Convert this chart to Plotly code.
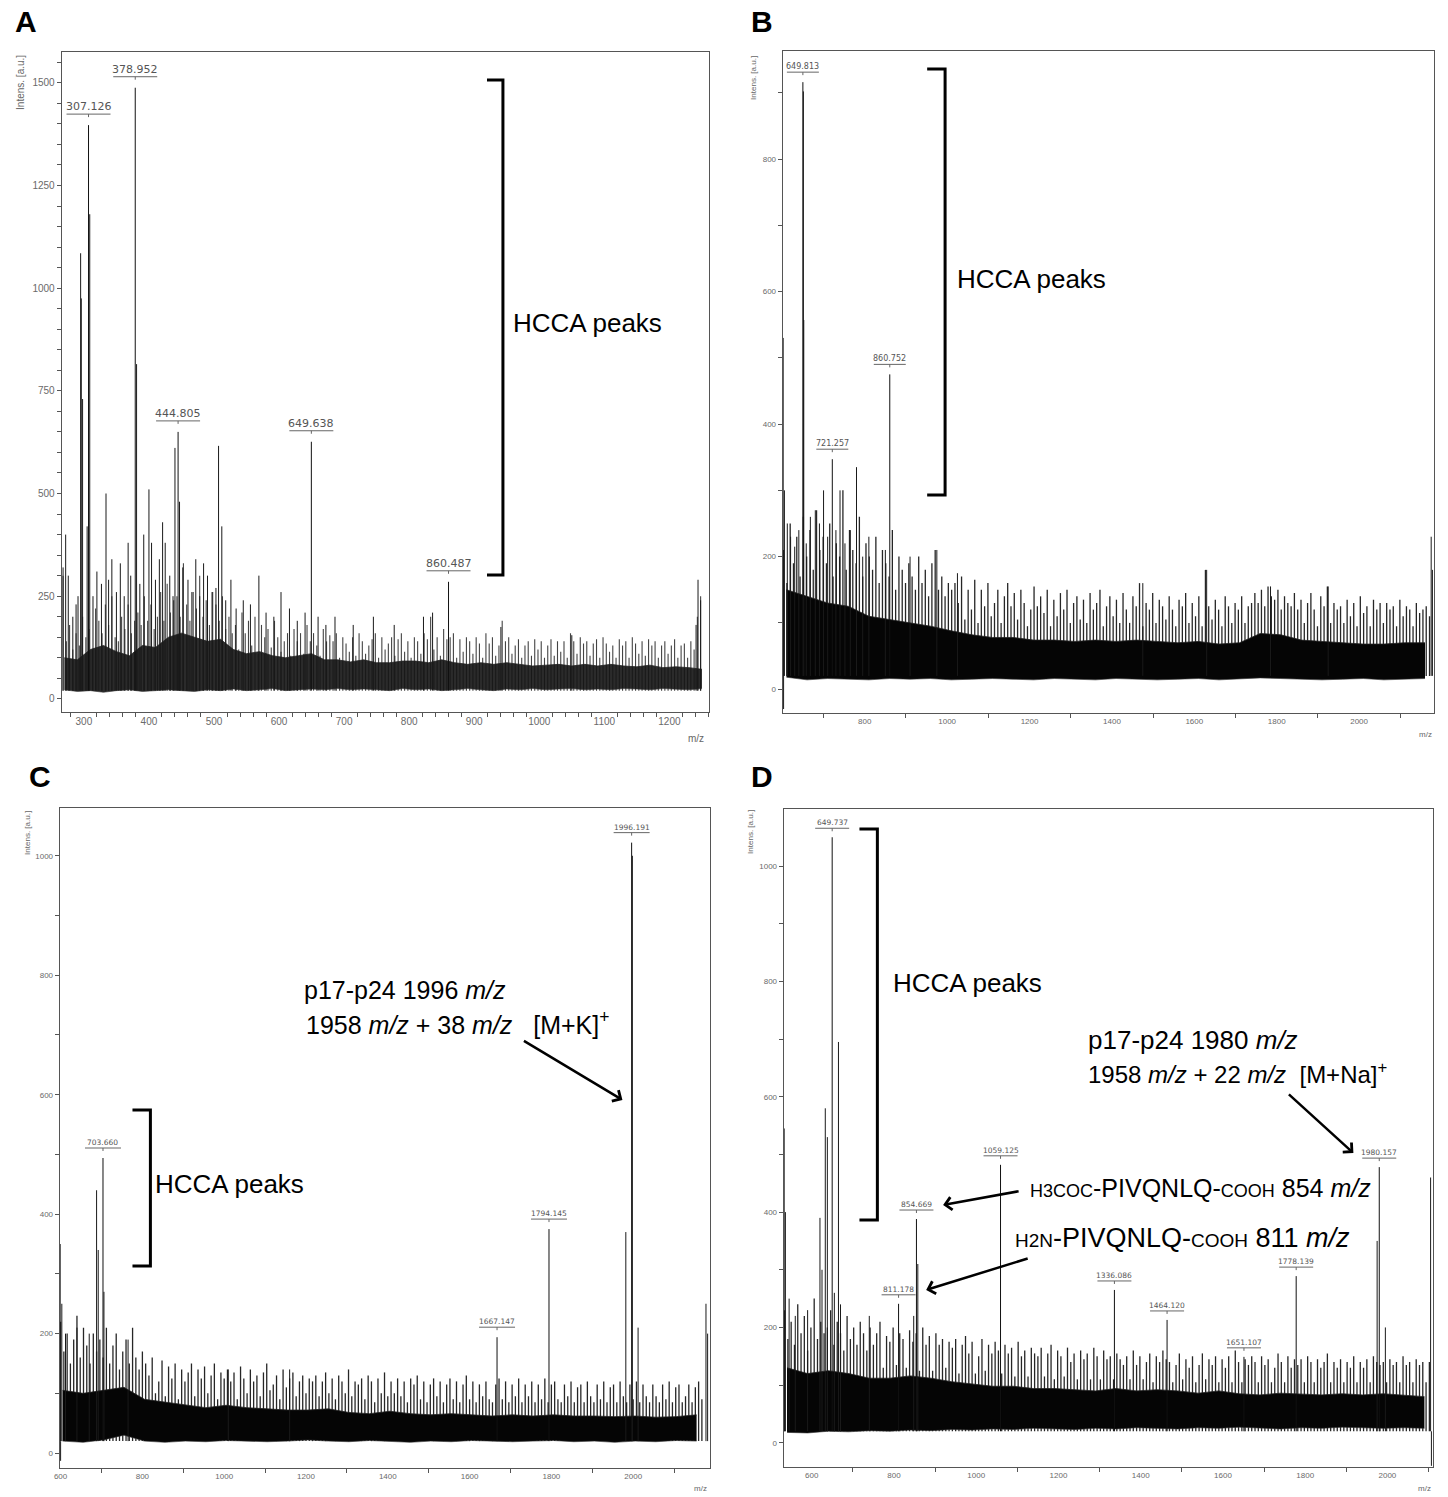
import plotly.graph_objects as go

W, H = 1448, 1497

# ================= DATA =================
# ---- Panel A ----
A_LABELED_MZ = [307.126, 378.952, 444.805, 649.638, 860.487]
A_LABELED_INT = [1397, 1488, 650, 626, 285]
A_ENV_MZ = list(range(270, 1251, 20))
A_ENV_HI = [100, 95, 120, 130, 115, 105, 130, 125, 150, 160,
            150, 140, 145, 120, 110, 115, 105, 100, 105, 110,
            95, 95, 90, 95, 88, 88, 92, 92, 88, 95,
            88, 84, 88, 84, 88, 84, 80, 82, 84, 80,
            84, 80, 84, 80, 78, 82, 76, 78, 76, 72]
A_ENV_LO = [22, 18, 20, 16, 20, 22, 18, 20, 22, 20,
            18, 22, 20, 24, 20, 22, 25, 20, 22, 24,
            22, 25, 22, 24, 22, 20, 25, 22, 24, 20,
            22, 25, 22, 20, 24, 22, 25, 22, 24, 25,
            22, 24, 22, 25, 24, 22, 25, 24, 22, 25]
A_NOISE_START, A_NOISE_STEP = 268, 5
A_NOISE = [300, 140, 180, 120, 160,
           130, 200, 150, 170, 120, 220,
           190, 160, 230, 180, 250, 150,
           140, 200, 170, 230, 160, 190,
           210, 180, 250, 190, 230, 170,
           200, 260, 190, 280, 210, 240,
           250, 200, 330, 230, 190, 260,
           220, 300, 200, 240, 180, 260,
           230, 190, 250, 170, 200, 160,
           180, 120, 210, 160, 190, 130,
           200, 110, 180, 150, 170, 125,
           190, 150, 115, 140, 160, 105,
           170, 140, 160, 110, 180, 140,
           160, 130, 105, 170, 140, 155,
           140, 160, 100, 150, 135, 115,
           150, 105, 160, 140, 110, 130,
           145, 160, 100, 150, 120, 135,
           150, 105, 145, 160, 115, 140,
           100, 150, 140, 110, 160, 145,
           200, 120, 150, 105, 170, 145,
           150, 160, 100, 145, 115, 150,
           140, 110, 150, 135, 100, 160,
           135, 150, 105, 130, 190, 140,
           150, 110, 130, 145, 100, 130,
           140, 105, 145, 120, 140, 100,
           130, 145, 105, 140, 115, 140,
           100, 160, 140, 110, 150, 135,
           140, 105, 135, 145, 100, 150,
           135, 115, 130, 100, 145, 130,
           140, 100, 150, 135, 110, 140,
           105, 145, 130, 140, 100, 130,
           140, 110, 130, 145, 100, 130,
           135, 100, 140, 120, 200, 250]
A_SPIKES = [(268, 320), (272, 400), (276, 300), (283, 200), (288, 230), (291, 250),
            (295, 1085), (296, 975), (298, 730), (305, 420), (309, 1180), (314, 250),
            (320, 310), (327, 280), (334, 500), (338, 290), (343, 340), (350, 260),
            (356, 330), (362, 250), (368, 380), (372, 300), (381, 815), (386, 280),
            (392, 400), (400, 510), (404, 380), (410, 290), (416, 340), (421, 430),
            (425, 380), (432, 300), (437, 250), (440, 611), (447, 480), (452, 320),
            (460, 290), (466, 260), (472, 340), (478, 250), (484, 330), (490, 300),
            (497, 260), (503, 270), (507, 616), (512, 420), (518, 240), (526, 290),
            (534, 220), (545, 240), (556, 230), (569, 300), (580, 210), (592, 200),
            (603, 260), (616, 220), (628, 190), (640, 210), (660, 200), (672, 180),
            (686, 200), (714, 180), (745, 200), (777, 180), (822, 200), (836, 210),
            (941, 175), (1050, 155), (1241, 180), (1244, 290), (1248, 240)]

# ---- Panel B ----
B_LABELED_MZ = [649.813, 721.257, 860.752]
B_LABELED_INT = [916, 347, 475]
B_ENV_MZ = list(range(610, 2161, 50))
B_ENV_HI = [150, 140, 130, 125, 110, 105, 100, 95, 88, 82,
            78, 78, 74, 74, 72, 74, 72, 74, 72, 70,
            72, 68, 70, 84, 82, 74, 72, 70, 68, 68,
            70, 70]
B_ENV_LO = [18, 14, 16, 15, 14, 16, 15, 16, 14, 15,
            16, 15, 14, 16, 15, 14, 16, 15, 14, 15,
            16, 14, 15, 17, 16, 15, 14, 15, 16, 14,
            15, 16]
B_NOISE_START, B_NOISE_STEP = 603, 8
B_NOISE = [210, 160, 250, 190, 230, 170, 260, 200, 240, 180, 270, 210, 230,
           190, 250, 170, 220, 200, 300, 180, 240, 210, 190, 260, 170, 220,
           200, 180, 230, 160, 210, 190, 170, 240, 150, 200, 180, 160, 190,
           170, 150, 200, 160, 180, 140, 190, 210, 150, 170, 140, 160, 150,
           160, 130, 170, 105, 150, 120, 165, 100, 150, 125, 160, 110, 130,
           150, 100, 140, 160, 125, 145, 105, 150, 130, 95, 120, 155, 125,
           140, 115, 150, 95, 135, 110, 145, 120, 150, 100, 130, 140, 105,
           135, 100, 145, 120, 130, 150, 95, 125, 140, 110, 135, 100, 145,
           120, 100, 140, 125, 160, 95, 130, 120, 145, 100, 135, 125, 105,
           140, 120, 95, 135, 125, 145, 100, 130, 110, 140, 95, 180, 125,
           105, 135, 120, 95, 140, 125, 100, 130, 120, 140, 100, 125, 130,
           145, 130, 150, 125, 155, 140, 135, 150, 120, 140, 130, 125, 145,
           120, 135, 100, 130, 145, 120, 95, 140, 125, 155, 100, 130, 120,
           125, 100, 135, 110, 130, 95, 140, 115, 125, 95, 135, 120, 130,
           100, 130, 120, 125, 95, 135, 110, 125, 120, 95, 130, 115, 120,
           125, 110]
B_SPIKES = [(602, 530), (603, -30), (605, 300), (612, 250), (620, 230), (630, 215),
            (640, 240), (651, 902), (652, 557), (658, 220), (668, 260), (680, 270),
            (690, 250), (700, 300), (710, 230), (730, 240), (740, 300), (752, 220),
            (765, 240), (780, 335), (795, 200), (810, 230), (850, 210), (910, 200),
            (975, 210), (1025, 175), (1475, 160), (1630, 180), (1785, 155), (1925, 155),
            (2175, 230), (2178, 180)]

# ---- Panel C ----
C_LABELED_MZ = [703.660, 1667.147, 1794.145, 1996.191]
C_LABELED_INT = [494, 194, 375, 1022]
C_ENV_MZ = list(range(605, 2156, 50))
C_ENV_HI = [105, 100, 105, 110, 90, 85, 80, 76, 80, 76,
            74, 72, 72, 74, 68, 66, 70, 66, 64, 66,
            64, 62, 64, 62, 64, 62, 62, 61, 62, 60,
            61, 64]
C_ENV_LO = [20, 18, 22, 30, 20, 18, 20, 19, 21, 20,
            19, 20, 22, 20, 19, 21, 20, 18, 20, 19,
            21, 20, 19, 20, 21, 19, 20, 18, 20, 19,
            21, 20]
C_NOISE_START, C_NOISE_STEP = 600, 8
C_NOISE = [220, 170, 200, 150, 190, 230, 160, 210, 180, 150, 200, 170, 190,
           160, 210, 150, 180, 200, 140, 170, 190, 150, 210, 160, 140, 170,
           150, 130, 160, 100, 120, 155, 95, 145, 125, 150, 90, 140, 120,
           135, 150, 95, 140, 125, 145, 100, 130, 150, 90, 135, 125, 140,
           120, 135, 90, 145, 125, 100, 140, 120, 130, 95, 135, 150, 105,
           115, 130, 90, 140, 110, 125, 135, 95, 120, 130, 100, 125, 120,
           130, 95, 120, 135, 100, 125, 90, 130, 120, 100, 140, 95, 120,
           115, 125, 90, 130, 120, 85, 125, 100, 135, 95, 120, 100, 125,
           95, 120, 85, 125, 115, 130, 90, 120, 85, 115, 125, 95, 120,
           85, 115, 125, 90, 120, 85, 115, 130, 90, 120, 85, 115, 95,
           120, 90, 85, 115, 125, 90, 120, 85, 115, 95, 125, 85, 115,
           95, 120, 85, 115, 90, 125, 85, 115, 120, 90, 85, 115, 95,
           120, 85, 110, 115, 85, 120, 95, 85, 115, 90, 120, 85, 110,
           115, 85, 120, 95, 85, 115, 90, 120, 85, 115, 95, 85, 115,
           95, 85, 115, 90, 120, 85, 110, 115, 85, 95, 115, 85, 110,
           120, 90]
C_SPIKES = [(599, 350), (600, -13), (603, 250), (612, 200), (640, 210), (670, 200),
            (688, 440), (692, 340), (706, 270), (765, 190), (1010, 140), (1160, 140),
            (1982, 370), (1998, 1000), (2012, 210), (2178, 250), (2182, 200)]

# ---- Panel D ----
D_LABELED_MZ = [649.737, 811.178, 854.669, 1059.125, 1336.086, 1464.120, 1651.107, 1778.139, 1980.157]
D_LABELED_INT = [1050, 241, 388, 482, 265, 213, 149, 289, 478]
D_ENV_MZ = list(range(540, 2091, 50))
D_ENV_HI = [130, 120, 125, 120, 112, 112, 116, 112, 106, 102,
            98, 98, 94, 94, 92, 90, 94, 90, 92, 90,
            86, 90, 85, 83, 86, 85, 83, 85, 83, 85,
            83, 80]
D_ENV_LO = [18, 17, 20, 19, 21, 20, 22, 21, 23, 22,
            24, 23, 25, 24, 23, 25, 24, 26, 25, 24,
            26, 25, 27, 25, 24, 26, 25, 27, 26, 25,
            26, 25]
D_NOISE_START, D_NOISE_STEP = 534, 8
D_NOISE = [230, 180, 210, 170, 240, 190, 220, 160, 200, 250, 180, 210, 190,
           200, 230, 170, 210, 190, 160, 220, 180, 200, 170, 210, 190, 160,
           200, 170, 190, 210, 130, 185, 175, 200, 135, 190, 180, 130, 195,
           175, 190, 125, 200, 170, 185, 125, 190, 170, 180, 130, 175, 165,
           180, 120, 170, 185, 155, 175, 120, 150, 180, 125, 170, 155, 175,
           160, 120, 170, 155, 165, 115, 175, 150, 160, 115, 165, 155, 150,
           165, 115, 155, 170, 110, 160, 150, 115, 165, 140, 155, 110, 160,
           145, 155, 110, 165, 150, 110, 160, 145, 150, 110, 155, 145, 135,
           150, 110, 160, 135, 150, 110, 140, 155, 105, 150, 140, 160, 145,
           140, 105, 135, 155, 110, 145, 130, 150, 105, 135, 155, 110, 145,
           135, 150, 105, 145, 130, 150, 105, 160, 140, 105, 145, 135, 150,
           140, 105, 150, 135, 145, 105, 130, 155, 140, 105, 150, 130, 145,
           135, 145, 105, 150, 140, 105, 145, 130, 140, 155, 105, 140, 130,
           145, 105, 140, 130, 150, 105, 140, 130, 145, 105, 150, 140, 135,
           140, 105, 145, 135, 140, 105, 150, 135, 140, 105, 145, 135, 140,
           105, 140]
D_SPIKES = [(533, 545), (536, 400), (545, 250), (560, 220), (590, 230),
            (620, 390), (625, 300), (633, 580), (638, 530), (655, 260),
            (665, 695), (670, 240), (740, 220), (848, 220), (858, 310),
            (1975, 350), (1995, 200), (2105, 460), (2107, -40)]

# ================= LAYOUT HELPERS =================
def PX(x):
    return x / W


def PY(y):
    return 1 - y / H


FONT = "Liberation Sans, Arial, sans-serif"
AXC = "#555555"
TKC = "#6a6a6a"

panels = [
    dict(x="x", y="y", box=(56, 52, 706, 712), xr=(266, 1261), yr=(-32, 1575), xd=100, xm=20, yd=250, ym=50,
         tf=10, lf=11, hw=22, gap=11,
         labmz=A_LABELED_MZ, labint=A_LABELED_INT, env=(A_ENV_MZ, A_ENV_LO, A_ENV_HI), spikes=A_SPIKES,
         noise=(A_NOISE_START, A_NOISE_STEP, A_NOISE), ncol="#444444", nw=1.1, fill="rgba(20,20,20,0.9)"),
    dict(x="x2", y="y2", box=(780, 51, 1434, 713), xr=(601, 2182), yr=(-36, 963), xd=200, xm=100, yd=200, ym=100,
         tf=8, lf=8, hw=16, gap=10,
         labmz=B_LABELED_MZ, labint=B_LABELED_INT, env=(B_ENV_MZ, B_ENV_LO, B_ENV_HI), spikes=B_SPIKES,
         noise=(B_NOISE_START, B_NOISE_STEP, B_NOISE), ncol="#262626", nw=1.3, fill="#050505"),
    dict(x="x3", y="y3", box=(54, 808, 707, 1468), xr=(598, 2188), yr=(-25, 1080), xd=200, xm=100, yd=200, ym=100,
         tf=8, lf=7.5, hw=18, gap=10,
         labmz=C_LABELED_MZ, labint=C_LABELED_INT, env=(C_ENV_MZ, C_ENV_LO, C_ENV_HI), spikes=C_SPIKES,
         noise=(C_NOISE_START, C_NOISE_STEP, C_NOISE), ncol="#262626", nw=1.3, fill="#050505"),
    dict(x="x4", y="y4", box=(781, 809, 1433, 1467), xr=(532, 2111), yr=(-42, 1099), xd=200, xm=100, yd=200, ym=100,
         tf=8, lf=7.5, hw=17, gap=9,
         labmz=D_LABELED_MZ, labint=D_LABELED_INT, env=(D_ENV_MZ, D_ENV_LO, D_ENV_HI), spikes=D_SPIKES,
         noise=(D_NOISE_START, D_NOISE_STEP, D_NOISE), ncol="#262626", nw=1.3, fill="#050505"),
]

fig = go.Figure()
shapes = []
annotations = []
layout_axes = {}


def stick_xy(pairs, base=20):
    xs, ys = [], []
    for m, h in pairs:
        xs += [m, m, None]
        ys += [base, h, None]
    return xs, ys


for i, p in enumerate(panels):
    l, t, r, b = p["box"]
    xa = "xaxis" if i == 0 else f"xaxis{i+1}"
    ya = "yaxis" if i == 0 else f"yaxis{i+1}"
    layout_axes[xa] = dict(
        domain=[PX(l), PX(r)], range=list(p["xr"]), anchor=p["y"],
        showline=True, mirror=True, linecolor=AXC, linewidth=1.2,
        showgrid=False, zeroline=False, ticks="outside", ticklen=0, tickcolor=AXC,
        dtick=p["xd"], tick0=0, tickfont=dict(family=FONT, size=p["tf"], color=TKC),
        minor=dict(dtick=p["xm"], tick0=0, ticks="outside", ticklen=4, tickcolor=AXC, showgrid=False),
        fixedrange=True,
    )
    layout_axes[ya] = dict(
        domain=[PY(b), PY(t)], range=list(p["yr"]), anchor=p["x"],
        showline=True, mirror=True, linecolor=AXC, linewidth=1.2,
        showgrid=False, zeroline=False, ticks="outside", ticklen=4, tickcolor=AXC,
        dtick=p["yd"], tick0=0, tickfont=dict(family=FONT, size=p["tf"], color=TKC),
        minor=dict(dtick=p["ym"], tick0=0, ticks="outside", ticklen=4, tickcolor=AXC, showgrid=False),
        fixedrange=True,
    )

    # dense noise sticks (drawn first, band on top hides their lower part)
    n0, nstep, nvals = p["noise"]
    nx = [n0 + nstep * k for k in range(len(nvals))]
    sx, sy = stick_xy(zip(nx, nvals))
    fig.add_trace(go.Scatter(x=sx, y=sy, mode="lines", line=dict(width=p["nw"], color=p["ncol"]),
                             xaxis=p["x"], yaxis=p["y"], hoverinfo="skip"))

    emz, elo, ehi = p["env"]
    fig.add_trace(go.Scatter(x=emz, y=elo, mode="lines", line=dict(width=0.6, color="#333"),
                             xaxis=p["x"], yaxis=p["y"], hoverinfo="skip"))
    fig.add_trace(go.Scatter(x=emz, y=ehi, mode="lines", line=dict(width=0.8, color="#222"),
                             fill="tonexty", fillcolor=p["fill"],
                             xaxis=p["x"], yaxis=p["y"], hoverinfo="skip"))

    sx, sy = stick_xy(p["spikes"])
    fig.add_trace(go.Scatter(x=sx, y=sy, mode="lines", line=dict(width=1, color="#1a1a1a"),
                             xaxis=p["x"], yaxis=p["y"], hoverinfo="skip"))

    sx, sy = stick_xy(zip(p["labmz"], p["labint"]))
    fig.add_trace(go.Scatter(x=sx, y=sy, mode="lines", line=dict(width=1, color="#111"),
                             xaxis=p["x"], yaxis=p["y"], hoverinfo="skip"))

    for m, h in zip(p["labmz"], p["labint"]):
        shapes.append(dict(type="line", xref=p["x"], yref=p["y"], xsizemode="pixel", ysizemode="pixel",
                           xanchor=m, yanchor=h, x0=-p["hw"], x1=p["hw"], y0=p["gap"], y1=p["gap"],
                           line=dict(color="#666", width=1)))
        shapes.append(dict(type="line", xref=p["x"], yref=p["y"], xsizemode="pixel", ysizemode="pixel",
                           xanchor=m, yanchor=h, x0=0, x1=0, y0=p["gap"] - 3, y1=p["gap"],
                           line=dict(color="#666", width=1)))
        annotations.append(dict(x=m, y=h, xref=p["x"], yref=p["y"], text=f"{m:.3f}", showarrow=False,
                                yanchor="bottom", xanchor="center", yshift=p["gap"] - 1,
                                font=dict(family="DejaVu Sans", size=p["lf"], color="#555")))

# ---------------- brackets ----------------
brackets = [(80, 575, 499, 483), (69, 495, 943, 925), (1110, 1266, 145, 127), (829, 1220, 875, 857)]
for top, bot, xv, xl in brackets:
    shapes.append(dict(type="path", xref="paper", yref="paper",
                       path=f"M {PX(xl)},{PY(top)} L {PX(xv)},{PY(top)} L {PX(xv)},{PY(bot)} L {PX(xl)},{PY(bot)}",
                       line=dict(color="black", width=3)))


def txt(x, y, s, size=26, xanchor="left", yanchor="middle", color="black", **kw):
    annotations.append(dict(x=PX(x), y=PY(y), xref="paper", yref="paper", text=s, showarrow=False,
                            xanchor=xanchor, yanchor=yanchor,
                            font=dict(family=FONT, size=size, color=color), **kw))


# HCCA labels
for (x, y) in [(507, 323), (953, 279), (148, 1184), (889, 983)]:
    txt(x, y, "HCCA peaks")

# panel letters
for (x, y, s) in [(20, 21, "A"), (759, 21, "B"), (34, 776, "C"), (759, 776, "D")]:
    txt(x, y, f"<b>{s}</b>", size=30, xanchor="center")

# axis labels
for (x, y, sz) in [(15, 82, 10), (750, 78, 8), (21, 833, 8), (747, 832, 8)]:
    txt(x, y, "Intens. [a.u.]", size=sz, xanchor="center", textangle=-90, color="#666")
for (x, y, sz) in [(693, 738, 10), (1425, 735, 8), (697, 1488, 8), (1424, 1488, 8)]:
    txt(x, y, "m/z", size=sz, xanchor="center", color="#666")

# C annotations
txt(297, 990, "p17-p24 1996 <i>m/z</i>", size=25)
txt(299, 1023, "1958 <i>m/z</i> + 38 <i>m/z</i>&nbsp;&nbsp;&nbsp;[M+K]<sup>+</sup>", size=25)
# D annotations
txt(1084, 1040, "p17-p24 1980 <i>m/z</i>", size=26)
txt(1084, 1073, "1958 <i>m/z</i> + 22 <i>m/z</i>&nbsp;&nbsp;[M+Na]<sup>+</sup>", size=24)
txt(1026, 1188, "<span style='font-size:18px'>H3COC</span>-PIVQNLQ-<span style='font-size:18px'>COOH</span> 854 <i>m/z</i>", size=25)
txt(1011, 1238, "<span style='font-size:19px'>H2N</span>-PIVQNLQ-<span style='font-size:19px'>COOH</span> 811 <i>m/z</i>", size=27)

# arrows (head, tail) in pixels
arrows = [((619, 1100), (519, 1040)), ((1353, 1153), (1287, 1093)),
          ((941, 1205), (1018, 1191)), ((924, 1290), (1027, 1258))]
for (hx, hy), (tx, ty) in arrows:
    annotations.append(dict(x=PX(hx), y=PY(hy), xref="paper", yref="paper", text="", showarrow=True,
                            ax=tx - hx, ay=ty - hy, arrowhead=4, arrowsize=1, arrowwidth=2.5,
                            arrowcolor="black"))

fig.update_layout(width=W, height=H, margin=dict(l=0, r=0, t=0, b=0), showlegend=False,
                  paper_bgcolor="white", plot_bgcolor="white", shapes=shapes, annotations=annotations,
                  **layout_axes)

fig.write_html("out.html")
